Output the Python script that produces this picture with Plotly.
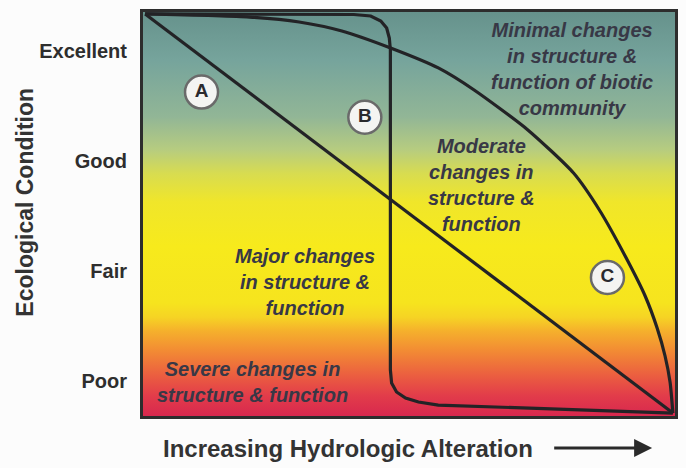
import plotly.graph_objects as go

# ---- data ----
tick_vals = [1, 2, 3, 4]
tick_text = ["Poor", "Fair", "Good", "Excellent"]

curve_a_x = [0.004, 0.996]
curve_a_y = [4.342, 0.704]

curve_b_x = [0.004, 0.396, 0.428, 0.447, 0.458, 0.463, 0.465, 0.465, 0.4673, 0.4766, 0.4935, 0.5178, 0.555, 0.667, 0.854, 0.996]
curve_b_y = [4.342, 4.337, 4.324, 4.278, 4.214, 4.123, 4.014, 1.097, 0.978, 0.896, 0.841, 0.805, 0.777, 0.759, 0.732, 0.704]

curve_c_x = [0.004, 0.200, 0.2935, 0.3738, 0.4654, 0.5551, 0.6224, 0.7234, 0.8093, 0.8579, 0.9103, 0.9439, 0.9664, 0.9813, 0.9907, 0.996]
curve_c_y = [4.342, 4.314, 4.269, 4.187, 4.032, 3.850, 3.649, 3.285, 2.892, 2.555, 2.099, 1.771, 1.479, 1.224, 0.987, 0.704]

badge_labels = ["A", "B", "C"]
badge_x = [0.110, 0.417, 0.873]
badge_y = [3.63, 3.40, 1.94]

zone_texts = [
    "Minimal changes<br>in structure &<br>function of biotic<br>community",
    "Moderate<br>changes in<br>structure &<br>function",
    "Major changes<br>in structure &<br>function",
    "Severe changes in<br>structure & function",
]
zone_x = [0.806, 0.636, 0.305, 0.206]
zone_y = [3.836, 2.785, 1.900, 0.983]

x_range = [0, 1]
y_range = [0.677, 4.36]

gradient_stops = [
    [0.00, "#d8284e"],
    [0.05, "#e23c4a"],
    [0.10, "#eb5e40"],
    [0.16, "#f28a34"],
    [0.21, "#f5b02c"],
    [0.245, "#f6d424"],
    [0.28, "#f6e41e"],
    [0.42, "#f7ea1c"],
    [0.53, "#f0e62a"],
    [0.60, "#d8dc50"],
    [0.66, "#b6cc80"],
    [0.74, "#92b696"],
    [0.88, "#76a49c"],
    [1.00, "#66928c"],
]

text_color = "#383846"
font_family = "Liberation Sans, Arial, sans-serif"

fig = go.Figure()

# background gradient
fig.add_trace(go.Scatter(
    x=[x_range[0], x_range[1], x_range[1], x_range[0], x_range[0]],
    y=[y_range[0], y_range[0], y_range[1], y_range[1], y_range[0]],
    mode="lines", line=dict(width=0), fill="toself",
    fillgradient=dict(type="vertical", colorscale=gradient_stops,
                      start=y_range[0], stop=y_range[1]),
    hoverinfo="skip", showlegend=False,
))

line_style = dict(color="#232326", width=3.2)
fig.add_trace(go.Scatter(x=curve_a_x, y=curve_a_y, mode="lines", line=line_style, showlegend=False))
fig.add_trace(go.Scatter(x=curve_b_x, y=curve_b_y, mode="lines", line=line_style, showlegend=False))
fig.add_trace(go.Scatter(x=curve_c_x, y=curve_c_y, mode="lines",
                         line=dict(color="#232326", width=3.2, shape="spline", smoothing=0.6),
                         showlegend=False))

fig.add_trace(go.Scatter(
    x=badge_x, y=badge_y, mode="markers+text", text=badge_labels,
    textposition="middle center",
    textfont=dict(family=font_family, size=19, color="#2a2a2e", weight="bold"),
    marker=dict(size=33, color="#f4f4f2", line=dict(color="#6a6a6a", width=2.5)),
    showlegend=False,
))

for t, x, y in zip(zone_texts, zone_x, zone_y):
    fig.add_annotation(
        x=x, y=y, xref="x", yref="y", text=t, showarrow=False,
        font=dict(family=font_family, size=20, color=text_color, weight="bold", style="italic"),
        align="center",
    )

# axis titles
fig.add_annotation(
    x=(24 - 143) / 535, xref="paper", xanchor="center", y=(416 - 202) / 404, yref="paper",
    yanchor="middle", text="Ecological Condition",
    showarrow=False, textangle=-90,
    font=dict(family=font_family, size=23, color="#333333", weight="bold"),
)
fig.add_annotation(
    x=(349 - 143) / 535, xref="paper", xanchor="center", y=-32 / 404, yref="paper", yanchor="middle",
    text="Increasing Hydrologic Alteration", showarrow=False,
    font=dict(family=font_family, size=24, color="#333333", weight="bold"),
)
# arrow
fig.add_annotation(
    x=(655 - 143) / 535, y=-32 / 404, ax=(555 - 143) / 535, ay=-32 / 404,
    xref="x domain", yref="y domain", axref="x domain", ayref="y domain",
    text="", showarrow=True, arrowhead=2, arrowsize=1.2, arrowwidth=3, arrowcolor="#2a2a2a",
)

fig.update_layout(
    width=686, height=468,
    margin=dict(l=143, r=8, t=12, b=52),
    paper_bgcolor="#fcfcfc", plot_bgcolor="#ffffff",
    showlegend=False,
)
fig.update_xaxes(range=x_range, showgrid=False, zeroline=False, showticklabels=False,
                 showline=True, mirror=True, linecolor="#2d2d2d", linewidth=3, fixedrange=True)
fig.update_yaxes(range=y_range, showgrid=False, zeroline=False,
                 tickvals=tick_vals, ticktext=tick_text, ticks="", ticklabelstandoff=9,
                 tickfont=dict(family=font_family, size=20, color="#2e2e2e", weight="bold"),
                 showline=True, mirror=True, linecolor="#2d2d2d", linewidth=3, fixedrange=True)

fig.write_html("out.html", config={"displayModeBar": False},
               post_script="document.body.style.margin='0';")
